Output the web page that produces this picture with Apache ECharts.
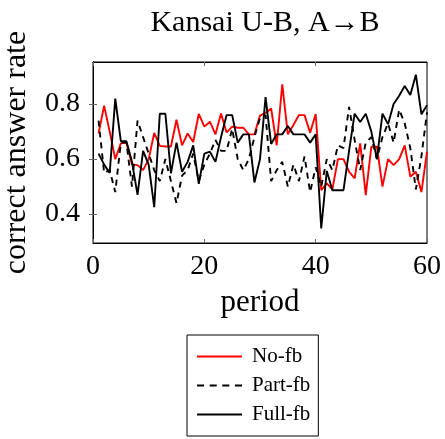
<!DOCTYPE html>
<html><head><meta charset="utf-8">
<script src="https://cdn.jsdelivr.net/npm/echarts@6/dist/echarts.min.js"></script>
<style>html,body{margin:0;padding:0;background:#fff}#c{width:445px;height:439px}</style>
</head><body><div id="c"></div>
<script>
const periods = Array.from({length: 60}, (_, i) => i + 1);
const noFb = [0.693,0.794,0.70,0.60,0.657,0.66,0.581,0.578,0.56,0.60,0.695,0.648,0.646,0.646,0.743,0.65,0.693,0.662,0.764,0.718,0.736,0.69,0.766,0.697,0.718,0.714,0.714,0.69,0.69,0.758,0.768,0.784,0.65,0.872,0.69,0.724,0.76,0.76,0.696,0.764,0.487,0.512,0.49,0.60,0.60,0.554,0.53,0.657,0.469,0.645,0.645,0.50,0.60,0.578,0.60,0.65,0.536,0.554,0.48,0.627];
const partFb = [0.74,0.55,0.56,0.48,0.66,0.66,0.50,0.74,0.68,0.62,0.56,0.52,0.60,0.52,0.44,0.54,0.56,0.62,0.52,0.58,0.62,0.67,0.63,0.63,0.71,0.60,0.56,0.60,0.68,0.75,0.76,0.52,0.56,0.59,0.50,0.58,0.52,0.61,0.48,0.57,0.50,0.60,0.56,0.65,0.64,0.79,0.67,0.56,0.66,0.68,0.60,0.68,0.73,0.66,0.78,0.73,0.64,0.49,0.61,0.77];
const fullFb = [0.62,0.58,0.55,0.82,0.665,0.665,0.59,0.47,0.63,0.58,0.425,0.765,0.765,0.548,0.66,0.554,0.59,0.65,0.51,0.62,0.627,0.59,0.68,0.76,0.76,0.66,0.69,0.69,0.515,0.60,0.825,0.655,0.69,0.69,0.72,0.69,0.69,0.69,0.66,0.69,0.348,0.557,0.487,0.487,0.487,0.63,0.765,0.735,0.765,0.70,0.60,0.765,0.727,0.80,0.83,0.866,0.833,0.907,0.763,0.796];
const seriesNames = ['No-fb', 'Part-fb', 'Full-fb'];
const xTicks = [0, 20, 40, 60];
const yTicks = [0.4, 0.6, 0.8];
const titleText = 'Kansai U-B, A\u2192B';

const FONT = '"Liberation Serif","Times New Roman",serif';
const pair = arr => arr.map((v, i) => [periods[i], v]);
const chart = echarts.init(document.getElementById('c'), null, {renderer: 'canvas'});
const tickStyle = {show: true, inside: true, length: 4, lineStyle: {color: '#666', width: 1}};
const solidIcon = 'path://M0,0h45v2h-45z';
const dashIcon = 'path://M0,0h7v2h-7zM12.7,0h7v2h-7zM25.3,0h7v2h-7zM38,0h7v2h-7z';
chart.setOption({
  animation: false,
  backgroundColor: '#fff',
  title: {text: titleText, left: 260, textAlign: 'center', top: 3,
    textStyle: {fontFamily: FONT, fontWeight: 'normal', fontSize: 30, color: '#000'}},
  grid: {left: 93, right: 18, top: 62, bottom: 196, show: true, borderColor: '#000', borderWidth: 1,
    backgroundColor: 'transparent', containLabel: false, outerBoundsMode: 'none'},
  legend: {
    orient: 'vertical', left: 187, top: 335,
    data: [
      {name: seriesNames[0], icon: solidIcon, itemStyle: {color: '#ff0000'}},
      {name: seriesNames[1], icon: dashIcon, itemStyle: {color: '#000'}},
      {name: seriesNames[2], icon: solidIcon, itemStyle: {color: '#000'}}
    ],
    borderColor: '#000', borderWidth: 1, padding: [11, 8, 11, 10],
    itemWidth: 45, itemHeight: 2, itemGap: 8,
    textStyle: {fontFamily: FONT, fontSize: 21, color: '#000', padding: [0, 0, 0, 5], lineHeight: 21}
  },
  xAxis: [{
    type: 'value', min: 0, max: 60, interval: 20, position: 'bottom',
    name: 'period', nameLocation: 'middle', nameGap: 44,
    nameTextStyle: {fontFamily: FONT, fontSize: 31, color: '#000'},
    axisLine: {show: true, lineStyle: {color: '#000'}},
    axisTick: tickStyle,
    axisLabel: {fontFamily: FONT, fontSize: 28, color: '#000', margin: 10, customValues: xTicks},
    splitLine: {show: false}
  }, {
    type: 'value', min: 0, max: 60, interval: 20, position: 'top',
    axisLine: {show: true, lineStyle: {color: '#000'}},
    axisTick: tickStyle, axisLabel: {show: false}, splitLine: {show: false}
  }],
  yAxis: [{
    type: 'value', min: 0.295, max: 0.953, position: 'left',
    name: 'correct answer rate', nameLocation: 'middle', nameGap: 60,
    nameTextStyle: {fontFamily: FONT, fontSize: 32, color: '#000'},
    axisLine: {show: true, lineStyle: {color: '#000'}},
    axisTick: Object.assign({}, tickStyle, {customValues: yTicks}),
    axisLabel: {fontFamily: FONT, fontSize: 28, color: '#000', margin: 13, customValues: yTicks,
      formatter: v => v.toFixed(1)},
    splitLine: {show: false}
  }, {
    type: 'value', min: 0.295, max: 0.953, position: 'right',
    axisLine: {show: true, lineStyle: {color: '#000'}},
    axisTick: Object.assign({}, tickStyle, {customValues: yTicks}),
    axisLabel: {show: false, customValues: yTicks}, splitLine: {show: false}
  }],
  series: [
    {name: seriesNames[0], type: 'line', data: pair(noFb), symbol: 'none', lineStyle: {color: '#ff0000', width: 1.9}, itemStyle: {color: '#ff0000'}},
    {name: seriesNames[1], type: 'line', data: pair(partFb), symbol: 'none', lineStyle: {color: '#000', width: 1.9, type: [6, 5]}, itemStyle: {color: '#000'}},
    {name: seriesNames[2], type: 'line', data: pair(fullFb), symbol: 'none', lineStyle: {color: '#000', width: 1.9}, itemStyle: {color: '#000'}}
  ]
});
</script></body></html>
